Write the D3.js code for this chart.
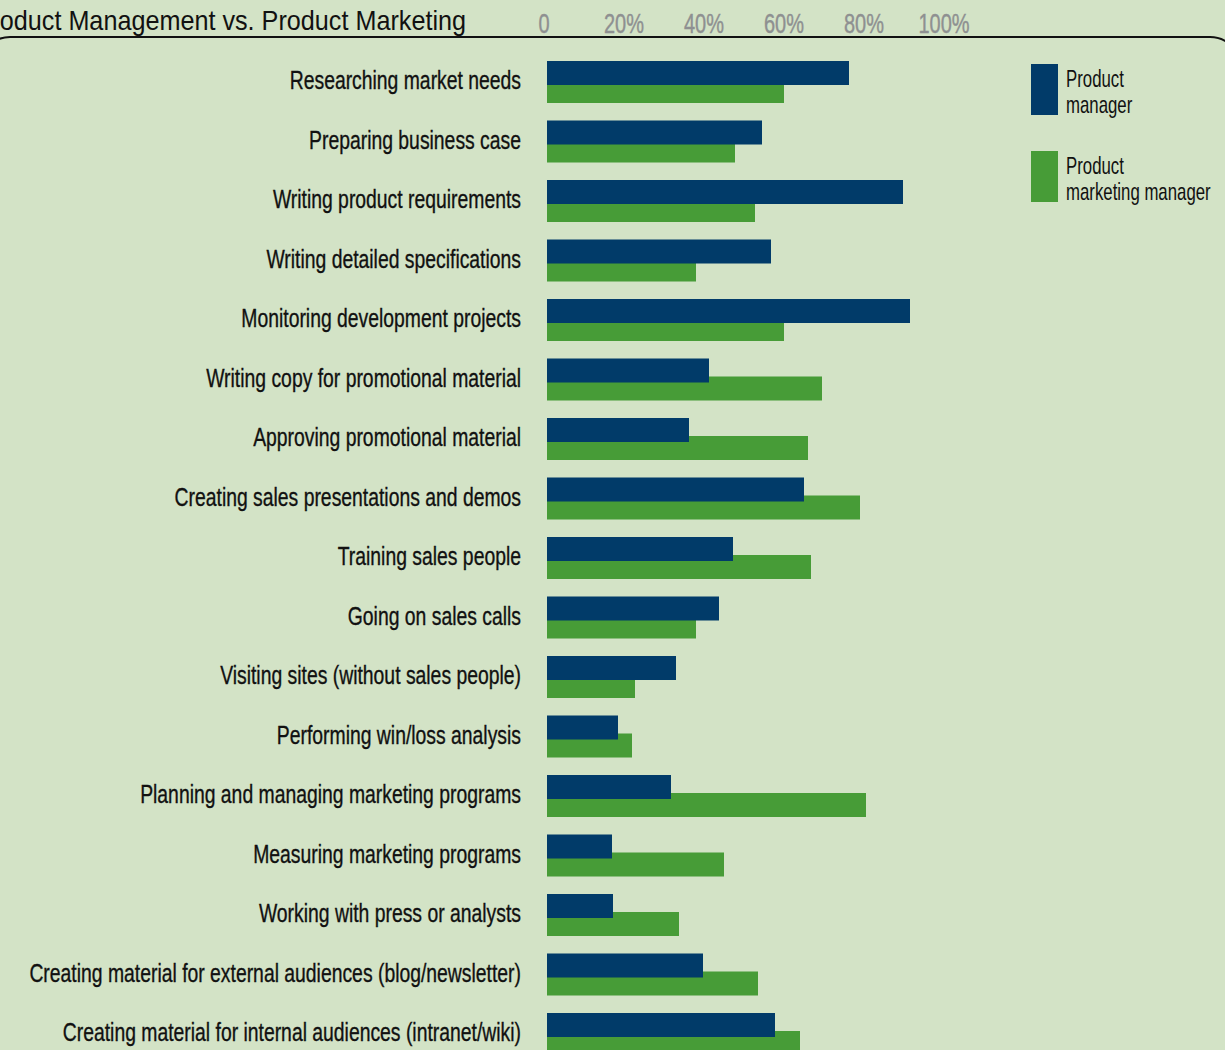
<!DOCTYPE html>
<html>
<head>
<meta charset="utf-8">
<script src="https://cdn.jsdelivr.net/npm/d3@7"></script>
<style>
  body { margin: 0; background: #d3e3c6; overflow: hidden; }
  svg { display: block; }
  text { font-family: 'Liberation Sans', Arial, sans-serif; }
</style>
</head>
<body>
<div id="chart"></div>
<script>
const width = 1225,
  height = 1050;

// data (percent of respondents)
const categories = [
  'Researching market needs',
  'Preparing business case',
  'Writing product requirements',
  'Writing detailed specifications',
  'Monitoring development projects',
  'Writing copy for promotional material',
  'Approving promotional material',
  'Creating sales presentations and demos',
  'Training sales people',
  'Going on sales calls',
  'Visiting sites (without sales people)',
  'Performing win/loss analysis',
  'Planning and managing marketing programs',
  'Measuring marketing programs',
  'Working with press or analysts',
  'Creating material for external audiences (blog/newsletter)',
  'Creating material for internal audiences (intranet/wiki)'
];
const productManager = [75.5, 53.75, 89, 56, 90.75, 40.5, 35.5, 64.25, 46.5, 43, 32.25, 17.75, 31, 16.25, 16.5, 39, 57];
const productMarketing = [59.25, 47, 52, 37.25, 59.25, 68.75, 65.25, 78.25, 66, 37.25, 22, 21.25, 79.75, 44.25, 33, 52.75, 63.25];
const tickValues = [0, 20, 40, 60, 80, 100];
const tickLabels = ['0', '20%', '40%', '60%', '80%', '100%'];
const seriesNames = [['Product', 'manager'], ['Product', 'marketing manager']];

const blue = '#013b69',
  green = '#479c37',
  grey = '#8e9091';

const svg = d3
  .select('#chart')
  .append('svg')
  .attr('width', width)
  .attr('height', height);

svg.append('rect').attr('width', width).attr('height', height).attr('fill', '#d3e3c6');

// scales
let x = d3.scaleLinear().domain([0, 100]).range([547, 947]);
let y = d3.scaleBand().domain(categories).range([61, 61 + categories.length * 59.5]);

// frame under the title, rounded at the right
svg
  .append('rect')
  .attr('x', -20)
  .attr('y', 37)
  .attr('width', 1260)
  .attr('height', 1100)
  .attr('rx', 30)
  .attr('fill', 'none')
  .attr('stroke', '#111')
  .attr('stroke-width', 2);

// title (cut off on the left like the original)
svg
  .append('g')
  .attr('transform', 'translate(466,30) scale(0.9,1)')
  .append('text')
  .attr('text-anchor', 'end')
  .attr('font-size', 28)
  .attr('fill', '#111')
  .text('Product Management vs. Product Marketing');

// top axis labels
svg
  .append('g')
  .selectAll('g')
  .data(tickValues)
  .join('g')
  .attr('transform', (d) => `translate(${x(d) - 3},33) scale(0.74,1)`)
  .append('text')
  .attr('text-anchor', 'middle')
  .attr('font-size', 27)
  .attr('fill', grey)
  .attr('stroke', grey)
  .attr('stroke-width', 0.4)
  .text((d, i) => tickLabels[i]);

const rows = categories.map((c, i) => ({ c, pm: productManager[i], pmm: productMarketing[i] }));

// bars: green under, blue over
svg
  .append('g')
  .selectAll('rect')
  .data(rows)
  .join('rect')
  .attr('x', x(0))
  .attr('y', (d) => y(d.c) + 18)
  .attr('width', (d) => x(d.pmm) - x(0))
  .attr('height', 24)
  .attr('fill', green);

svg
  .append('g')
  .selectAll('rect')
  .data(rows)
  .join('rect')
  .attr('x', x(0))
  .attr('y', (d) => y(d.c))
  .attr('width', (d) => x(d.pm) - x(0))
  .attr('height', 24)
  .attr('fill', blue);

// category labels
svg
  .append('g')
  .selectAll('g')
  .data(categories)
  .join('g')
  .attr('transform', (d) => `translate(521,${y(d) + 28}) scale(0.745,1)`)
  .append('text')
  .attr('text-anchor', 'end')
  .attr('font-size', 26)
  .attr('fill', '#111')
  .attr('stroke', '#111')
  .attr('stroke-width', 0.35)
  .text((d) => d);

// legend
const legend = svg
  .append('g')
  .selectAll('g')
  .data(seriesNames)
  .join('g')
  .attr('transform', (d, i) => `translate(1031,${64 + i * 87})`);

legend
  .append('rect')
  .attr('width', 27)
  .attr('height', 51)
  .attr('fill', (d, i) => (i === 0 ? blue : green));

legend
  .selectAll('g')
  .data((d) => d)
  .join('g')
  .attr('transform', (d, i) => `translate(35,${23 + i * 26}) scale(0.7,1)`)
  .append('text')
  .attr('font-size', 24)
  .attr('fill', '#111')
  .text((d) => d);
</script>
</body>
</html>
